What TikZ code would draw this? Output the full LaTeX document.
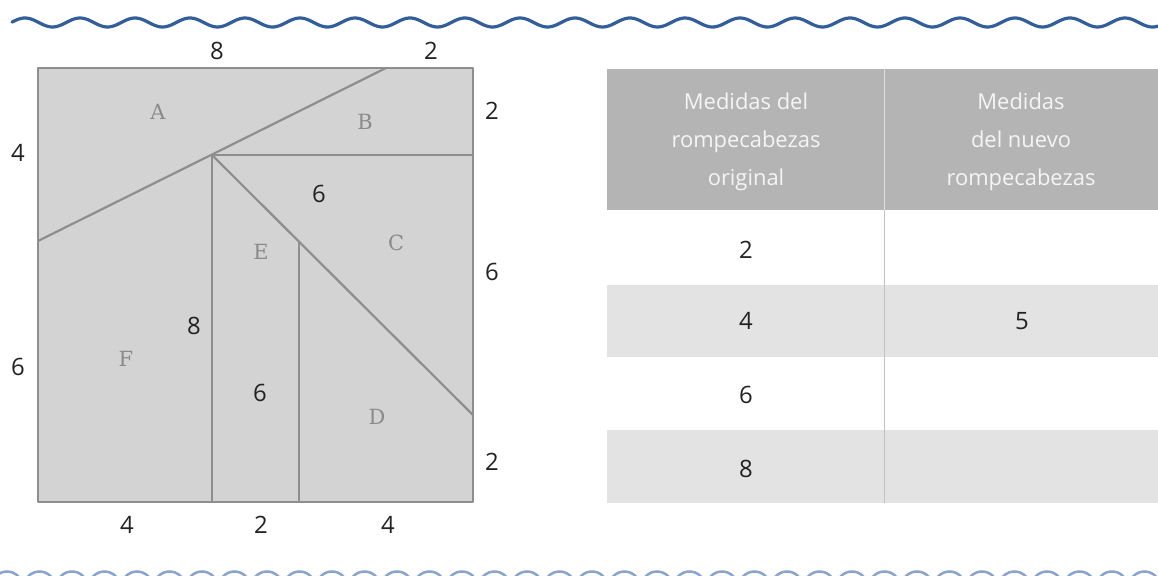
\documentclass[tikz,border=0pt]{standalone}
\usepackage{fontspec}
\setmainfont{Open Sans}
\newfontfamily\letterfont{DejaVu Serif}
\definecolor{wavetop}{HTML}{325E9A}
\definecolor{wavebot}{HTML}{8AA4CC}
\definecolor{piece}{HTML}{D3D3D3}
\definecolor{edge}{HTML}{8E8E8E}
\definecolor{lettercol}{HTML}{8A8A8A}
\definecolor{numcol}{HTML}{222222}
\definecolor{headfill}{HTML}{B4B4B4}
\definecolor{rowfill}{HTML}{E3E3E3}
\definecolor{divcol}{HTML}{C2C2C2}
\tikzset{
  wave/.style={wavetop, line width=3.2bp, line cap=round},
  bump/.style={wavebot, line width=2.5bp},
  edgeline/.style={edge, line width=2.2bp, line join=round},
  piecelabel/.style={font=\letterfont\fontsize{21}{24}\selectfont, text=lettercol, inner sep=0pt},
  numlabel/.style={font=\fontsize{24}{26}\selectfont, text=numcol, inner sep=0pt},
  headtext/.style={font=\fontsize{22}{38}\selectfont, text=white!96!black, align=center, inner sep=0pt},
}
\begin{document}
\begin{tikzpicture}[x=1bp,y=-1bp]
\useasboundingbox (0,0) rectangle (1158,576);
\clip (0,0) rectangle (1158,576);
% top wave
\draw[wave] plot[domain=12:1158,samples=600,smooth] (\x,{22.5-4.5*cos(6.54545*(\x-25))});
% bottom bumps
\foreach \i in {0,...,36} \draw[bump] ({7+32.5*\i},587) circle (15.5);
% puzzle
\coordinate (TL) at (38,68);
\coordinate (TR) at (473,68);
\coordinate (BR) at (473,502);
\coordinate (BL) at (38,502);
\coordinate (Aleft) at (38,241);
\coordinate (Atop) at (386,68);
\coordinate (Pm) at (212,155);
\coordinate (Bright) at (473,155);
\coordinate (V1b) at (212,502);
\coordinate (V2t) at (299,241);
\coordinate (V2b) at (299,502);
\coordinate (Dright) at (473,415);
\fill[piece] (TL) rectangle (BR);
\draw[edgeline] (TL) -- (TR) -- (BR) -- (BL) -- cycle;
\draw[edgeline] (Aleft) -- (Atop);
\draw[edgeline] (Pm) -- (Bright);
\draw[edgeline] (Pm) -- (V1b);
\draw[edgeline] (V2t) -- (V2b);
\draw[edgeline] (Pm) -- (Dright);
% piece letters
\node[piecelabel] (lA) at (158,112) {A};
\node[piecelabel] (lB) at (365,122) {B};
\node[piecelabel] (lC) at (396,243) {C};
\node[piecelabel] (lD) at (377,417) {D};
\node[piecelabel] (lE) at (261,252) {E};
\node[piecelabel] (lF) at (126,359) {F};
% measures
\node[numlabel] (t8) at (217,51) {8};
\node[numlabel] (t2) at (431,51) {2};
\node[numlabel] (r2a) at (492,111) {2};
\node[numlabel] (r6) at (492,272) {6};
\node[numlabel] (r2b) at (492,462) {2};
\node[numlabel] (l4) at (18,153) {4};
\node[numlabel] (l6) at (18,367) {6};
\node[numlabel] (b4a) at (127,525) {4};
\node[numlabel] (b2) at (261,525) {2};
\node[numlabel] (b4b) at (388,525) {4};
\node[numlabel] (i6a) at (319,194) {6};
\node[numlabel] (i8) at (194,326) {8};
\node[numlabel] (i6b) at (260,393) {6};
% table
\fill[headfill] (607,69) rectangle (1158,210);
\fill[rowfill] (607,285) rectangle (1158,357);
\fill[rowfill] (607,430) rectangle (1158,503);
\draw[white!88!black, line width=1bp] (884,69) -- (884,210);
\draw[divcol, line width=1bp] (884,210) -- (884,503);
\node[headtext] (h1) at (746,142) {Medidas del\\rompecabezas\\original};
\node[headtext] (h2) at (1021,142) {Medidas\\del nuevo\\rompecabezas};
\node[numlabel] (c2) at (746,250) {2};
\node[numlabel] (c4) at (746,321) {4};
\node[numlabel] (c5) at (1022,321) {5};
\node[numlabel] (c6) at (746,395) {6};
\node[numlabel] (c8) at (746,469) {8};
\end{tikzpicture}
\end{document}
